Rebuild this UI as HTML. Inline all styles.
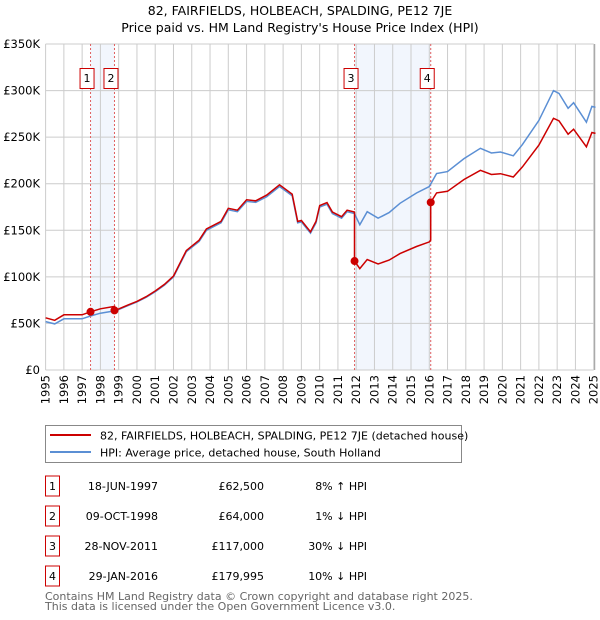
<!DOCTYPE html>
<html><head><meta charset="utf-8"><style>
body{margin:0;background:#fff;font-family:"DejaVu Sans","Liberation Sans",sans-serif;}
svg{display:block}
</style></head><body>
<svg id="c" width="600" height="620" xmlns="http://www.w3.org/2000/svg" font-family="DejaVu Sans, Liberation Sans, sans-serif">
<text x="300" y="15" text-anchor="middle" font-size="12.5" fill="#000">82, FAIRFIELDS, HOLBEACH, SPALDING, PE12 7JE</text>
<text x="300" y="32" text-anchor="middle" font-size="12.5" fill="#000">Price paid vs. HM Land Registry's House Price Index (HPI)</text>
<g id="plot"></g>
<g>
<rect x="45.5" y="425.5" width="416" height="37" fill="#fff" stroke="#888"/>
<line x1="50" y1="435" x2="91" y2="435" stroke="#cc0000" stroke-width="2"/>
<text x="100" y="439.5" font-size="11">82, FAIRFIELDS, HOLBEACH, SPALDING, PE12 7JE (detached house)</text>
<line x1="50" y1="452" x2="91" y2="452" stroke="#5b8fd4" stroke-width="2"/>
<text x="100" y="456.5" font-size="11">HPI: Average price, detached house, South Holland</text>
</g>
<g id="tbl" font-size="11"></g>
<text x="45" y="600" font-size="11" fill="#666">Contains HM Land Registry data © Crown copyright and database right 2025.</text>
<text x="45" y="610" font-size="11" fill="#666">This data is licensed under the Open Government Licence v3.0.</text>
</svg>
<script>
const hpiYears=[1995.0,1995.5,1996.0,1997.0,1997.46,1998.0,1998.77,1999.0,1999.5,2000.0,2000.5,2001.0,2001.5,2002.0,2002.7,2003.4,2003.8,2004.6,2005.0,2005.5,2006.0,2006.5,2007.1,2007.8,2008.5,2008.8,2009.0,2009.5,2009.8,2010.0,2010.4,2010.7,2011.2,2011.5,2011.9,2012.2,2012.6,2013.2,2013.8,2014.4,2015.3,2016.0,2016.4,2017.0,2017.9,2018.8,2019.4,2019.9,2020.6,2021.1,2022.0,2022.8,2023.1,2023.6,2023.9,2024.6,2024.9,2025.1];
const hpiValues=[52000,49500,55000,55000,58000,61000,63400,65000,69000,73000,78000,84000,91000,100000,127000,138000,150000,158000,172000,170000,181000,180000,186000,197000,187000,158000,159000,147000,158000,175000,178000,168000,163000,170000,168000,156000,170000,163000,169000,179000,190000,197000,211000,213000,227000,238000,233000,234000,230000,242000,268000,300000,297000,281000,287000,266000,283000,282000];
const saleYears=[1997.46,1998.77,2011.91,2016.08];
const salePrices=[62500,64000,117000,179995];
const saleLabels=["1","2","3","4"];
const saleDates=["18-JUN-1997","09-OCT-1998","28-NOV-2011","29-JAN-2016"];
const salePriceText=["£62,500","£64,000","£117,000","£179,995"];
const saleHpiText=["8% ↑ HPI","1% ↓ HPI","30% ↓ HPI","10% ↓ HPI"];
const yTicks=[0,50000,100000,150000,200000,250000,300000,350000];
const yTickLabels=["£0","£50K","£100K","£150K","£200K","£250K","£300K","£350K"];
const xTicks=[1995,1996,1997,1998,1999,2000,2001,2002,2003,2004,2005,2006,2007,2008,2009,2010,2011,2012,2013,2014,2015,2016,2017,2018,2019,2020,2021,2022,2023,2024,2025];

const X0=45.6,X1=593.7,Y0=370,Y1=44;
const x=t=>X0+(t-1995)/30*(X1-X0);
const y=v=>Y0-v/350000*(Y0-Y1);
const NS="http://www.w3.org/2000/svg";
function mk(tag,attrs,parent,txt){const e=document.createElementNS(NS,tag);for(const k in attrs)e.setAttribute(k,attrs[k]);if(txt!==undefined)e.textContent=txt;parent.appendChild(e);return e;}
function hpiAt(t){for(let i=0;i<hpiYears.length-1;i++){if(t<=hpiYears[i+1]){const f=(t-hpiYears[i])/(hpiYears[i+1]-hpiYears[i]);return hpiValues[i]+f*(hpiValues[i+1]-hpiValues[i]);}}return hpiValues[hpiValues.length-1];}
const plot=document.getElementById('plot');
for(let i=0;i<saleYears.length;i+=2){
 const r=mk('rect',{x:x(saleYears[i]),y:Y1,width:x(saleYears[i+1])-x(saleYears[i]),height:Y0-Y1,fill:'#edf2fc',opacity:0.7},plot);
 
 
}
xTicks.forEach(t=>{
 const l=mk('line',{x1:x(t),x2:x(t),y1:Y1,y2:Y0,stroke:'#cccccc','stroke-width':1},plot);
 
 
 const tx=mk('text',{x:0,y:0,'text-anchor':'end','font-size':11.5,transform:'translate('+(x(t)+4)+','+(Y0+5)+') rotate(-90)'},plot,String(t));
 
 
});
yTicks.forEach((v,i)=>{
 const l=mk('line',{x1:X0,x2:X1,y1:y(v),y2:y(v),stroke:'#cccccc','stroke-width':1},plot);
 
 
 const tx=mk('text',{x:40,y:y(v)+4,'text-anchor':'end','font-size':11.5},plot,yTickLabels[i]);
 
 
});
const ax=mk('line',{x1:X1+1,x2:X1+1,y1:Y1,y2:Y0,stroke:'#999','stroke-width':1},plot);


saleYears.forEach((t,i)=>{
 const l=mk('line',{x1:x(t),x2:x(t),y1:Y1,y2:Y0,stroke:'#e06060','stroke-width':1,'stroke-dasharray':'2,2'},plot);
 
 
 const b=mk('rect',{x:x(t)-10.5,y:68.5,width:14,height:20,fill:'#fff',stroke:'#cc0000'},plot);
 
 
 const tx=mk('text',{x:x(t)-3.5,y:82,'text-anchor':'middle','font-size':11},plot,saleLabels[i]);
 
 
});
let d='';
hpiYears.forEach((t,i)=>{d+=(i?'L':'M')+x(t).toFixed(1)+','+y(hpiValues[i]).toFixed(1);});
const hp=mk('path',{d:d,fill:'none',stroke:'#5b8fd4','stroke-width':1.5},plot);


const ratios=saleYears.map((t,i)=>salePrices[i]/hpiAt(t));
function ratioAt(t){let r=ratios[0];for(let i=0;i<saleYears.length;i++)if(t>=saleYears[i])r=ratios[i];return r;}
let pts=[...hpiYears,...saleYears].sort((a,b)=>a-b);
let pd='';
pts.forEach((t,i)=>{
 const k=saleYears.indexOf(t);
 if(k>0){pd+='L'+x(t).toFixed(1)+','+y(hpiAt(t)*ratios[k-1]).toFixed(1);}
 pd+=(i?'L':'M')+x(t).toFixed(1)+','+y(hpiAt(t)*ratioAt(t)).toFixed(1);
});
const pp=mk('path',{d:pd,fill:'none',stroke:'#cc0000','stroke-width':1.5},plot);


saleYears.forEach((t,i)=>{
 const c=mk('circle',{cx:x(t),cy:y(salePrices[i]),r:4,fill:'#cc0000'},plot);
 
 
});
const tbl=document.getElementById('tbl');
saleLabels.forEach((s,i)=>{
 const yy=483+i*30;
 const b=mk('rect',{x:45.5,y:yy-7,width:14,height:20,fill:'#fff',stroke:'#cc0000'},tbl);
 
 
 const t0=mk('text',{x:52.5,y:yy+7,'text-anchor':'middle'},tbl,s);
 
 
 const t1=mk('text',{x:158,y:yy+7,'text-anchor':'end'},tbl,saleDates[i]);
 
 
 const t2=mk('text',{x:264,y:yy+7,'text-anchor':'end'},tbl,salePriceText[i]);
 
 
 const t3=mk('text',{x:367,y:yy+7,'text-anchor':'end'},tbl,saleHpiText[i]);
 
 
});
</script>
</body></html>
